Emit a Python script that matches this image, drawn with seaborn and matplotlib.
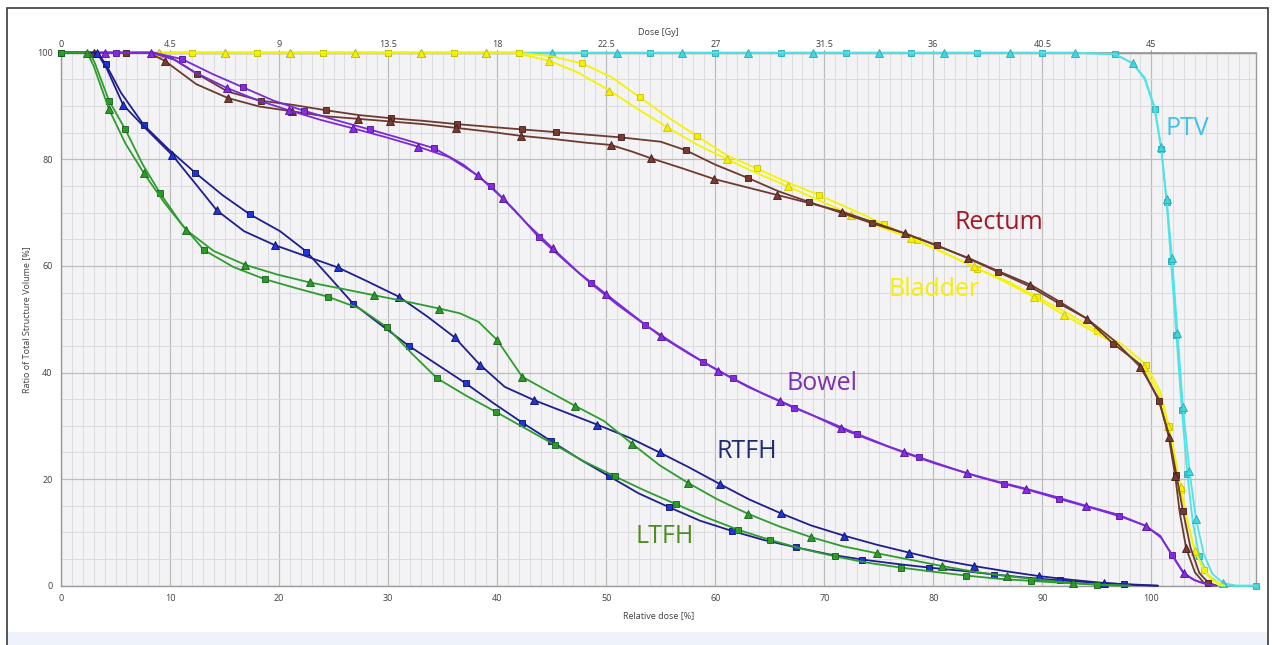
import matplotlib
matplotlib.use("Agg")
import matplotlib.pyplot as plt
import seaborn as sns
from matplotlib.patches import Rectangle
from matplotlib.ticker import MultipleLocator, FormatStrFormatter

sns.set_theme(style="white")
plt.rcParams["font.family"] = ["Open Sans", "DejaVu Sans"]

# ---------------------------------------------------------------------------
# DVH data (relative dose [%], volume [%]); A = square plan, B = triangle plan

ptv_a_x = [0, 3, 6, 9, 12, 15, 18, 21, 24, 27, 30, 33, 36, 39, 42, 45, 48, 51, 54, 57, 60, 63, 66, 69, 72, 75, 78, 81, 84, 87, 90, 93,
           96.7, 98.3, 99.4, 100.3, 100.9, 101.4, 101.8, 102.3, 102.8, 103.3, 103.8, 104.4, 105.2, 106.2, 107.5, 109.6]
ptv_a_y = [100, 100, 100, 100, 100, 100, 100, 100, 100, 100, 100, 100, 100, 100, 100, 100, 100, 100, 100, 100, 100, 100, 100, 100, 100, 100, 100, 100, 100, 100, 100, 100,
           99.7, 98.0, 95.0, 89.5, 82.0, 72.0, 61.0, 47.0, 33.0, 21.0, 12.0, 5.5, 2.0, 0.4, 0.0, 0.0]
ptv_b_x = [0, 3, 6, 9, 12, 15, 18, 21, 24, 27, 30, 33, 36, 39, 42, 45, 48, 51, 54, 57, 60, 63, 66, 69, 72, 75, 78, 81, 84, 87, 90, 93,
           96.7, 98.3, 99.4, 100.3, 100.9, 101.4, 101.9, 102.4, 102.9, 103.5, 104.1, 104.8, 105.6, 106.6, 107.8, 109.6]
ptv_b_y = [100, 100, 100, 100, 100, 100, 100, 100, 100, 100, 100, 100, 100, 100, 100, 100, 100, 100, 100, 100, 100, 100, 100, 100, 100, 100, 100, 100, 100, 100, 100, 100,
           99.7, 98.0, 95.3, 89.8, 82.3, 72.5, 61.5, 47.5, 33.5, 21.5, 12.5, 6.0, 2.2, 0.5, 0.0, 0.0]

bladder_a_x = [0, 3, 6, 9, 12, 15, 18, 21, 24, 27, 30, 33, 36, 39, 42.0, 45.0, 47.8, 50.5, 53.1, 55.8, 58.3, 61.0, 63.8, 66.5, 69.5, 72.5, 75.5, 78.5, 81.0, 84.0,
               86.8, 89.5, 92.5, 95.0, 97.3, 99.5, 100.8, 101.6, 102.2, 102.7, 103.3, 104.0, 104.8, 105.6, 106.5]
bladder_a_y = [100, 100, 100, 100, 100, 100, 100, 100, 100, 100, 100, 100, 100, 100, 100, 99.3, 98.0, 95.4, 91.6, 87.7, 84.4, 80.8, 78.3, 75.8, 73.3, 70.6, 67.8, 64.8, 62.5, 59.5,
               57.1, 54.2, 50.9, 47.8, 45.3, 41.5, 36.5, 30.0, 24.0, 18.0, 12.0, 6.5, 3.0, 1.0, 0.0]
bladder_b_x = [0, 3, 6, 9, 12, 15, 18, 21, 24, 27, 30, 33, 36, 39, 41.5, 44.8, 47.5, 50.3, 53.0, 55.6, 58.3, 61.1, 63.8, 66.7, 69.5, 72.5, 75.5, 78.0, 81.0, 83.7,
               86.5, 89.2, 92.0, 94.5, 97.0, 99.3, 100.7, 101.5, 102.1, 102.7, 103.3, 104.0, 104.8, 105.7, 106.7]
bladder_b_y = [100, 100, 100, 100, 100, 100, 100, 100, 100, 100, 100, 100, 100, 100, 100, 98.5, 96.2, 92.9, 89.3, 86.0, 82.8, 80.0, 77.4, 74.9, 72.3, 69.6, 67.0, 65.2, 62.4, 59.9,
               57.1, 54.2, 50.8, 47.9, 45.0, 41.0, 36.0, 30.0, 24.5, 18.5, 12.4, 6.5, 3.0, 1.0, 0.0]

rectum_a_x = [0, 2, 4, 6, 8.5, 10.0, 12.5, 15.3, 18.3, 21.3, 24.3, 27.3, 30.3, 33.3, 36.3, 39.3, 42.3, 45.4, 48.4, 51.4, 55.0, 57.3, 60.0, 63.0, 65.8, 68.6, 71.5, 74.4, 77.4,
              80.3, 83.1, 85.9, 88.8, 91.5, 94.0, 96.5, 99.0, 100.7, 101.6, 102.3, 102.9, 103.6, 104.4, 105.2, 106.0]
rectum_a_y = [100, 100, 100, 100, 100, 99.2, 96.0, 92.7, 91.0, 90.2, 89.2, 88.3, 87.7, 87.2, 86.6, 86.1, 85.6, 85.1, 84.6, 84.1, 83.3, 81.7, 79.0, 76.5, 74.0, 72.0, 70.0, 68.0, 66.1,
              63.9, 61.5, 58.9, 56.2, 53.0, 50.2, 45.4, 41.5, 34.6, 28.5, 20.8, 14.0, 7.1, 2.4, 0.6, 0.0]
rectum_b_x = [0, 1, 3, 5, 8.0, 9.5, 12.4, 15.3, 18.2, 21.2, 24.1, 27.2, 30.2, 33.2, 36.2, 39.2, 42.2, 45.2, 48.2, 50.4, 52.3, 54.1, 57.0, 59.9, 62.8, 65.7, 68.6, 71.6, 74.5,
              77.4, 80.3, 83.2, 86.0, 88.9, 91.5, 94.1, 96.6, 99.0, 100.7, 101.6, 102.2, 102.6, 103.2, 104.0, 104.8, 105.5]
rectum_b_y = [100, 100, 100, 100, 100, 98.5, 94.1, 91.5, 89.9, 89.0, 88.1, 87.6, 87.1, 86.6, 85.9, 85.2, 84.4, 83.8, 83.1, 82.7, 81.5, 80.2, 78.3, 76.3, 74.8, 73.3, 71.8, 70.2, 68.2,
              66.1, 63.8, 61.5, 59.0, 56.5, 53.4, 50.1, 46.0, 41.0, 35.0, 27.9, 20.5, 13.8, 7.0, 2.5, 0.6, 0.0]

bowel_a_x = [0, 2, 5, 8.5, 11.1, 13.9, 16.7, 19.5, 22.3, 25.3, 28.3, 31.2, 34.2, 36.9, 39.4, 41.6, 43.8, 46.3, 48.6, 51.1, 53.6, 56.3, 58.9, 61.6, 64.4, 67.2, 70.1, 73.0,
             75.8, 78.7, 81.6, 84.0, 86.5, 89.0, 91.5, 94.5, 97.0, 99.3, 100.8, 101.9, 102.9, 103.8, 104.7, 105.7]
bowel_a_y = [100, 100, 100, 100, 98.8, 96.0, 93.5, 91.0, 89.1, 87.3, 85.6, 83.9, 82.1, 79.0, 75.0, 70.5, 65.4, 60.8, 56.7, 52.6, 48.9, 45.3, 42.0, 38.9, 36.0, 33.4, 31.0, 28.5,
             26.2, 24.1, 22.1, 20.5, 19.1, 17.8, 16.3, 14.6, 13.1, 11.4, 9.4, 5.7, 2.5, 1.2, 0.5, 0.0]
bowel_b_x = [0, 4, 7, 8.3, 10.5, 12.3, 15.2, 18.0, 20.9, 23.8, 26.8, 29.7, 32.7, 35.6, 38.2, 40.5, 42.7, 45.1, 47.5, 50.0, 52.5, 55.0, 57.6, 60.3, 63.0, 65.9, 68.7, 71.5,
             74.4, 77.3, 80.2, 83.1, 85.8, 88.5, 91.2, 94.0, 97.0, 99.5, 100.9, 102.0, 103.0, 104.0, 104.9, 105.9]
bowel_b_y = [100, 100, 100, 100, 98.6, 96.3, 93.4, 91.1, 89.2, 87.4, 85.8, 84.2, 82.4, 80.4, 77.0, 72.7, 68.0, 63.3, 58.7, 54.7, 50.7, 46.8, 43.5, 40.3, 37.3, 34.7, 32.2, 29.5,
             27.2, 25.0, 22.9, 21.1, 19.6, 18.2, 16.7, 15.0, 13.3, 11.2, 9.0, 5.5, 2.3, 1.0, 0.4, 0.0]

rtfh_a_x = [0, 1.5, 3.3, 4.1, 5.5, 7.6, 9.8, 12.3, 14.8, 17.3, 20.1, 22.5, 24.8, 26.8, 29.3, 31.9, 34.5, 37.1, 39.7, 42.3, 44.9, 47.6, 50.3, 53.0, 55.8, 58.6, 61.5, 64.4,
            67.4, 70.4, 73.5, 76.6, 79.6, 82.6, 85.6, 88.6, 91.6, 94.6, 97.5, 100.6]
rtfh_a_y = [100, 100, 100, 97.9, 92.5, 86.4, 82.0, 77.5, 73.3, 69.7, 66.5, 62.7, 57.5, 52.9, 49.0, 45.0, 41.5, 38.0, 34.2, 30.6, 27.2, 23.7, 20.5, 17.3, 14.7, 12.2, 10.3, 8.6,
            7.2, 5.9, 4.9, 4.1, 3.4, 2.8, 2.1, 1.5, 1.0, 0.6, 0.3, 0.0]
rtfh_b_x = [0, 1.0, 3.3, 4.2, 5.7, 7.9, 10.2, 12.3, 14.3, 16.8, 19.6, 22.5, 25.4, 28.2, 31.0, 33.6, 36.1, 38.4, 40.7, 43.4, 46.3, 49.2, 52.1, 54.9, 57.6, 60.4, 63.1, 66.0,
            68.8, 71.8, 74.8, 77.8, 80.7, 83.7, 86.7, 89.7, 92.7, 95.7, 98.7, 100.6]
rtfh_b_y = [100, 100, 100, 97.0, 90.2, 85.5, 80.8, 75.5, 70.4, 66.5, 63.9, 61.8, 59.7, 57.0, 54.2, 50.5, 46.6, 41.5, 37.3, 34.8, 32.5, 30.2, 27.8, 25.0, 22.2, 19.1, 16.2, 13.6,
            11.3, 9.4, 7.7, 6.2, 4.8, 3.7, 2.7, 1.8, 1.1, 0.5, 0.1, 0.0]

ltfh_a_x = [0, 1.2, 2.6, 3.1, 4.4, 5.9, 7.5, 9.1, 11.0, 13.1, 15.8, 18.7, 21.6, 24.5, 27.4, 29.9, 32.2, 34.5, 37.2, 39.9, 42.6, 45.3, 48.0, 50.8, 53.6, 56.4, 59.2, 62.1,
            65.0, 68.0, 71.0, 74.0, 77.0, 80.1, 83.0, 86.0, 89.0, 92.1, 95.0, 98.0]
ltfh_a_y = [100, 100, 100, 98.1, 91.0, 85.6, 79.0, 73.6, 68.0, 63.0, 59.8, 57.5, 55.8, 54.2, 52.0, 48.5, 43.5, 38.9, 35.6, 32.6, 29.5, 26.4, 23.3, 20.5, 17.8, 15.3, 12.8, 10.5,
            8.6, 6.9, 5.5, 4.3, 3.4, 2.6, 1.9, 1.3, 0.9, 0.5, 0.2, 0.0]
ltfh_b_x = [0, 1.8, 2.4, 3.0, 4.4, 5.9, 7.6, 9.5, 11.5, 14.0, 16.9, 19.8, 22.8, 25.8, 28.7, 31.7, 34.7, 36.6, 38.3, 40.0, 41.2, 42.3, 44.5, 47.1, 49.8, 52.4, 54.9, 57.5,
            60.2, 63.0, 65.9, 68.8, 71.7, 74.8, 77.8, 80.8, 83.8, 86.8, 89.8, 92.8, 95.9, 98.0]
ltfh_b_y = [100, 100, 100, 97.5, 89.4, 83.0, 77.4, 71.8, 66.7, 62.8, 60.2, 58.4, 56.9, 55.7, 54.5, 53.3, 52.0, 51.1, 49.5, 46.1, 42.5, 39.2, 36.7, 33.8, 30.9, 26.6, 22.6, 19.3,
            16.2, 13.5, 11.1, 9.1, 7.4, 6.1, 4.9, 3.7, 2.6, 1.8, 1.1, 0.5, 0.1, 0.0]

gy_ticks = [0, 4.5, 9, 13.5, 18, 22.5, 27, 31.5, 36, 40.5, 45]
pct_ticks = [0, 10, 20, 30, 40, 50, 60, 70, 80, 90, 100]
vol_ticks = [0, 20, 40, 60, 80, 100]

# structure: (label, curves, line colour, marker fill, marker edge, label colour, label pos)
structures = [
    ("PTV", [(ptv_a_x, ptv_a_y), (ptv_b_x, ptv_b_y)], "#4fe3e8", "#3fd6e0", "#2aa8b0", "#3fc0ee", (103.3, 85.8)),
    ("Bladder", [(bladder_a_x, bladder_a_y), (bladder_b_x, bladder_b_y)], "#f4f400", "#f6f000", "#c8c000", "#f6f000", (80.1, 55.5)),
    ("Rectum", [(rectum_a_x, rectum_a_y), (rectum_b_x, rectum_b_y)], "#6d3a30", "#7a3a32", "#3e1c16", "#a01828", (86.0, 68.2)),
    ("Bowel", [(bowel_a_x, bowel_a_y), (bowel_b_x, bowel_b_y)], "#7a2ad8", "#8a2be2", "#4a1090", "#7b30b8", (69.8, 38.0)),
    ("RTFH", [(rtfh_a_x, rtfh_a_y), (rtfh_b_x, rtfh_b_y)], "#1e1e90", "#2034d8", "#0c0c60", "#1e2a6e", (62.9, 25.1)),
    ("LTFH", [(ltfh_a_x, ltfh_a_y), (ltfh_b_x, ltfh_b_y)], "#2e9c2e", "#2e9a2a", "#14601a", "#4e8c1e", (55.4, 9.3)),
]

W, H = 1272, 645
fig = plt.figure(figsize=(W / 100, H / 100), dpi=100)
fig.patch.set_facecolor("white")

# outer frame + bottom band
fig.add_artist(Rectangle((8 / W, 0), 1260 / W, 13 / H, transform=fig.transFigure,
                         facecolor="#eef2f9", edgecolor="none", zorder=0))
fig.add_artist(Rectangle((7 / W, -0.05), 1261 / W, 1.05 - 8 / H, transform=fig.transFigure,
                         facecolor="none", edgecolor="#3a3a3a", lw=1.2, zorder=1))

ax = fig.add_axes([61 / W, 1 - 585.7 / H, (1256 - 61) / W, (585.7 - 52.7) / H])
ax.set_facecolor("#f3f3f5")

for lab, curves, lc, mfc, mec, labc, pos in structures:
    for i, (xs, ys) in enumerate(curves):
        sns.lineplot(
            x=xs, y=ys, ax=ax, sort=False, estimator=None,
            color=lc, lw=1.3,
            marker="s" if i == 0 else "^",
            markersize=5 if i == 0 else 5.5,
            markerfacecolor=mfc, markeredgecolor=mec, markeredgewidth=0.6,
            markevery=(0.0 if i == 0 else 0.025, 0.05),
            clip_on=False, zorder=3,
        )
    ax.text(pos[0], pos[1], lab, color=labc, fontsize=18, ha="center", va="center",
            family=["Open Sans", "DejaVu Sans"], zorder=5)

# Axis formatting
ax.set_xlim(0, 109.6)
ax.set_ylim(0, 100)
ax.set_xticks(pct_ticks)
ax.set_yticks(vol_ticks)
ax.xaxis.set_minor_locator(MultipleLocator(1))
ax.yaxis.set_minor_locator(MultipleLocator(5))
ax.grid(which="major", color="#bcbcbc", lw=0.9, zorder=0)
ax.grid(which="minor", color="#dcdcdf", lw=0.7, zorder=0)
ax.set_axisbelow(True)
ax.tick_params(which="major", length=3, width=0.6, color="#707070",
               labelsize=6.5, labelcolor="#404040", pad=3)
ax.tick_params(which="minor", length=0)
for s in ax.spines.values():
    s.set_color("#9a9a9a")
    s.set_linewidth(1)

ax.set_xlabel("Relative dose [%]", fontsize=6.5, color="#404040", labelpad=6)
ax.set_ylabel("Ratio of Total Structure Volume [%]", fontsize=6.5, color="#404040", labelpad=4)

secax = ax.secondary_xaxis("top", functions=(lambda x: x * 0.45, lambda g: g / 0.45))
secax.set_xticks(gy_ticks)
secax.xaxis.set_major_formatter(FormatStrFormatter("%g"))
secax.tick_params(length=2, width=0.6, color="#707070", labelsize=6.5,
                  labelcolor="#404040", pad=1)
secax.spines["top"].set_color("#9a9a9a")
secax.set_xlabel("Dose [Gy]", fontsize=6.5, color="#404040", labelpad=3)

fig.savefig("out.png", dpi=100)
